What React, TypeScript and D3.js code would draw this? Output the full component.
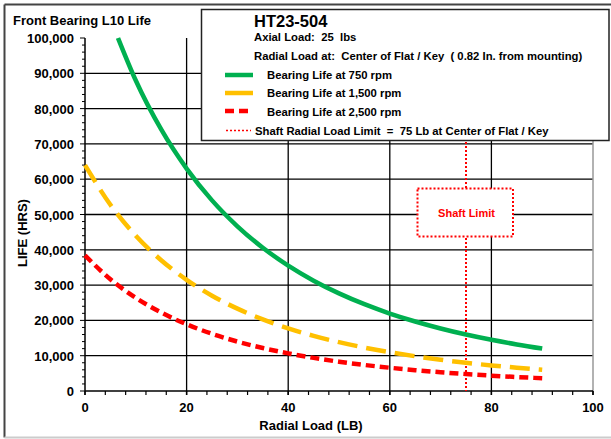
import React from "react";
import * as d3 from "d3";

const radialLoad750: number[] = [6.5, 10, 15, 20, 25, 30, 35, 40, 45, 50, 55, 60, 65, 70, 75, 80, 85, 90];
const life750: number[] = [100000, 87950, 74090, 63000, 54000, 46660, 40580, 35520, 31260, 27660, 24590, 21950, 19690, 17720, 16000, 14500, 13190, 12020];
const radialLoad: number[] = [0, 5, 10, 15, 20, 25, 30, 35, 40, 45, 50, 55, 60, 65, 70, 75, 80, 85, 90];
const life1500: number[] = [64000, 52750, 43980, 37050, 31500, 27000, 23330, 20290, 17760, 15630, 13830, 12300, 10980, 9850, 8860, 8000, 7250, 6600, 6010];
const life2500: number[] = [38410, 31650, 26390, 22230, 18900, 16200, 14000, 12170, 10660, 9380, 8300, 7380, 6590, 5910, 5320, 4800, 4350, 3960, 3610];
const shaftLimit = 75;
const xTicks: number[] = [0, 20, 40, 60, 80, 100];
const yTicks: number[] = [0, 10000, 20000, 30000, 40000, 50000, 60000, 70000, 80000, 90000, 100000];

const FONT = "'Liberation Sans', Arial, sans-serif";

export default function App() {
  const x = d3.scaleLinear().domain([0, 100]).range([85, 593]);
  const y = d3.scaleLinear().domain([0, 100000]).range([391, 38]);
  const line = d3
    .line<[number, number]>()
    .x((d) => x(d[0]))
    .y((d) => y(d[1]))
    .curve(d3.curveMonotoneX);

  const g750 = line(radialLoad750.map((r, i) => [r, life750[i]]));
  const g1500 = line(radialLoad.map((r, i) => [r, life1500[i]]));
  const g2500 = line(radialLoad.map((r, i) => [r, life2500[i]]));

  const yMinor = d3.range(0, 100001, 2000);
  const xMinor = d3.range(0, 101, 4);
  const fmt = d3.format(",");
  const sx = x(shaftLimit);

  return (
    <svg
      width={611}
      height={439}
      style={{ position: "absolute", left: 0, top: 0, background: "#fff" }}
      fontFamily={FONT}
    >
      <rect x={0} y={0} width={611} height={439} fill="#fff" />
      {/* outer frame */}
      <line x1={4.5} y1={4.5} x2={611} y2={4.5} stroke="#444" strokeWidth={2} />
      <line x1={4.5} y1={4.5} x2={4.5} y2={437.5} stroke="#444" strokeWidth={2} />
      <line x1={4.5} y1={437.5} x2={611} y2={437.5} stroke="#ccc" strokeWidth={2} />

      {/* gridlines */}
      {yTicks.slice(1, -1).map((t) => (
        <line key={"gy" + t} x1={x(0)} x2={x(100)} y1={y(t)} y2={y(t)} stroke="#000" strokeWidth={1.3} />
      ))}
      {xTicks.slice(1, -1).map((t) => (
        <line key={"gx" + t} x1={x(t)} x2={x(t)} y1={y(0)} y2={y(100000)} stroke="#000" strokeWidth={1.3} />
      ))}
      <line x1={x(100)} x2={x(100)} y1={y(0)} y2={y(100000)} stroke="#999" strokeWidth={1.5} />

      {/* axes */}
      <line x1={x(0)} x2={x(0)} y1={y(0)} y2={y(100000)} stroke="#000" strokeWidth={1.5} />
      <line x1={x(0)} x2={x(100)} y1={y(0)} y2={y(0)} stroke="#000" strokeWidth={1.5} />
      {yMinor.map((t) => (
        <line key={"ym" + t} x1={x(0) - (t % 10000 === 0 ? 5 : 3)} x2={x(0)} y1={y(t)} y2={y(t)} stroke="#000" strokeWidth={1} />
      ))}
      {xMinor.map((t) => (
        <line key={"xm" + t} x1={x(t)} x2={x(t)} y1={y(0)} y2={y(0) + 4} stroke="#000" strokeWidth={1.2} />
      ))}
      {xTicks.map((t) => (
        <line key={"xM" + t} x1={x(t)} x2={x(t)} y1={y(0)} y2={y(0) + 4} stroke="#000" strokeWidth={1.5} />
      ))}

      {/* tick labels */}
      {yTicks.map((t) => (
        <text key={"yl" + t} x={74} y={y(t) + 5} textAnchor="end" fontSize={13} fontWeight="bold" fill="#000">
          {fmt(t)}
        </text>
      ))}
      {xTicks.map((t) => (
        <text key={"xl" + t} x={x(t)} y={411.5} textAnchor="middle" fontSize={13} fontWeight="bold" fill="#000">
          {t}
        </text>
      ))}

      {/* axis titles */}
      <text x={13} y={24.5} fontSize={13} fontWeight="bold" fill="#000">Front Bearing L10 Life</text>
      <text x={311} y={430} textAnchor="middle" fontSize={13} fontWeight="bold" fill="#000">Radial Load (LB)</text>
      <text transform="translate(27,233) rotate(-90)" textAnchor="middle" fontSize={13} fontWeight="bold" fill="#000">
        LIFE (HRS)
      </text>

      {/* shaft limit line */}
      <line x1={sx} x2={sx} y1={y(100000)} y2={y(0)} stroke="#ff0000" strokeWidth={2} strokeDasharray="2,2" />

      {/* series */}
      <path d={g2500 || ""} fill="none" stroke="#ff0000" strokeWidth={4.5} strokeDasharray="9,5" />
      <path d={g1500 || ""} fill="none" stroke="#ffc000" strokeWidth={4.5} strokeDasharray="20,9" />
      <path d={g750 || ""} fill="none" stroke="#00b050" strokeWidth={4.5} />

      {/* shaft limit box */}
      <rect x={417.5} y={188.5} width={95.5} height={48} fill="#fff" stroke="#ff0000" strokeWidth={2} strokeDasharray="2,2" />
      <text x={466.5} y={216.5} textAnchor="middle" fontSize={11} fontWeight="bold" fill="#ff0000">Shaft Limit</text>

      {/* legend box */}
      <rect x={201.5} y={9.5} width={407.5} height={131} fill="#fff" stroke="#222" strokeWidth={1.5} />
      <text x={254} y={26.7} fontSize={16.5} fontWeight="bold" fill="#000">HT23-504</text>
      <text x={254} y={40.7} fontSize={11.3} fontWeight="bold" fill="#000" style={{ whiteSpace: "pre" }}>
        {"Axial Load:  25  lbs"}
      </text>
      <text x={254} y={60} fontSize={11.3} fontWeight="bold" fill="#000" style={{ whiteSpace: "pre" }}>
        {"Radial Load at:  Center of Flat / Key  ( 0.82 In. from mounting)"}
      </text>
      <line x1={225} x2={253} y1={75} y2={75} stroke="#00b050" strokeWidth={4.5} />
      <text x={267} y={78.5} fontSize={11.3} fontWeight="bold" fill="#000">Bearing Life at 750 rpm</text>
      <line x1={225} x2={253} y1={93} y2={93} stroke="#ffc000" strokeWidth={4.5} />
      <text x={267} y={96.7} fontSize={11.3} fontWeight="bold" fill="#000">Bearing Life at 1,500 rpm</text>
      <line x1={225} x2={253} y1={111} y2={111} stroke="#ff0000" strokeWidth={4.5} strokeDasharray="9,5" />
      <text x={267} y={115.5} fontSize={11.3} fontWeight="bold" fill="#000">Bearing Life at 2,500 rpm</text>
      <line x1={226} x2={251} y1={130.5} y2={130.5} stroke="#ff0000" strokeWidth={1.5} strokeDasharray="2,2" />
      <text x={255} y={135} fontSize={11.3} fontWeight="bold" fill="#000" style={{ whiteSpace: "pre" }}>
        {"Shaft Radial Load Limit  =  75 Lb at Center of Flat / Key"}
      </text>
    </svg>
  );
}
